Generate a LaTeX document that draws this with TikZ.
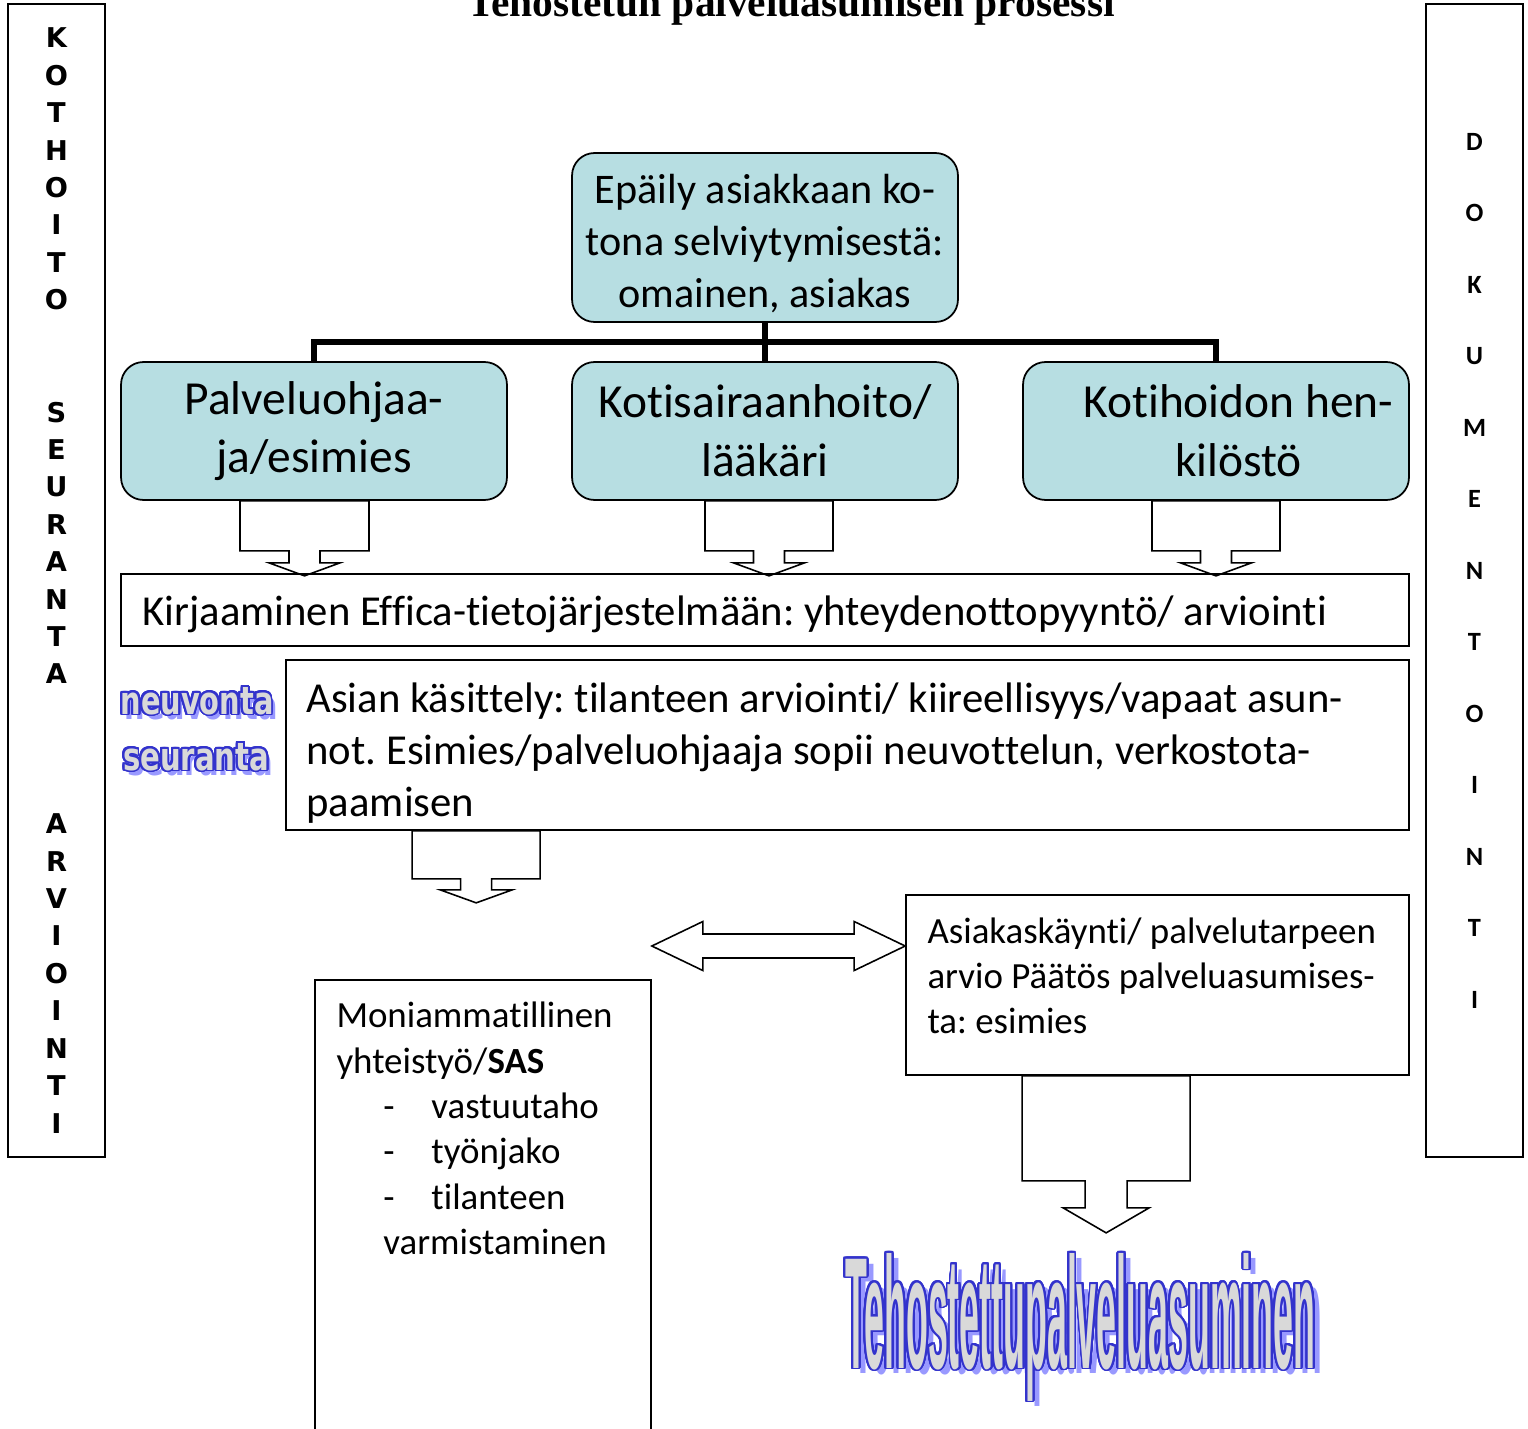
\documentclass[tikz,border=0pt]{standalone}
\usepackage{fontspec}
\setmainfont{Carlito}[Ligatures=NoCommon]
\newfontfamily\titlefont{Liberation Serif}
\newfontfamily\heavyfont{DejaVu Sans}
\newfontfamily\wordartfont{Liberation Sans}
\usepackage{contour}
\usetikzlibrary{calc}
\contournumber{32}
\contourlength{1.1pt}
\frenchspacing
\definecolor{boxblue}{RGB}{183,222,226}
\definecolor{waline}{RGB}{51,51,204}
\definecolor{wafill}{RGB}{217,217,217}
\definecolor{washadow}{RGB}{153,153,255}
\tikzstyle{bluebox} = [rectangle, rounded corners=0.45cm, draw=black, line width=1pt, fill=boxblue, align=center]
\tikzstyle{roleboxes} = [bluebox, minimum width=7.72cm, minimum height=2.76cm, font=\fontsize{27}{33.4}\selectfont]
\tikzstyle{plainbox} = [rectangle, draw=black, line width=1pt]
\tikzstyle{boxtext} = [inner sep=0, align=left]
\tikzstyle{sidebar} = [rectangle, draw=black, line width=1pt, minimum width=1.94cm, minimum height=23.06cm, align=center]
\tikzstyle{tree} = [line width=3pt]
\tikzstyle{callout} = [line width=0.9pt, line join=miter]
% block arrow pointing down: top centre, box half width, box height, stem half width, stem length, head half width, head length
\newcommand{\calloutdown}[7]{%
  \draw [callout] (#1) -- ++(-#2,0) -- ++(0,#3) -- ++({#2-#4},0) -- ++(0,#5) -- ++({#4-#6},0) -- ++(#6,#7)
    -- ++(#6,-#7) -- ++({#4-#6},0) -- ++(0,-#5) -- ++({#2-#4},0) -- ++(0,-#3) -- cycle;
}
% block arrow with two heads, tip to tip
\newcommand{\doublecallout}[2]{%
  \draw [callout] let \p1=(#1), \p2=(#2) in (\p1) -- (\x1+1.02cm,\y1+0.49cm) -- (\x1+1.02cm,\y1+0.24cm)
    -- (\x2-1.02cm,\y1+0.24cm) -- (\x2-1.02cm,\y1+0.49cm) -- (\p2) -- (\x2-1.02cm,\y1-0.49cm)
    -- (\x2-1.02cm,\y1-0.24cm) -- (\x1+1.02cm,\y1-0.24cm) -- (\x1+1.02cm,\y1-0.49cm) -- cycle;
}
\newcommand{\wordart}[3]{{\color{wafill}\contour{waline}{\resizebox{#1}{#2}{#3}}}}
\newcommand{\wordshadow}[3]{{\color{washadow}\resizebox{#1}{#2}{#3}}}

\begin{document}
\begin{tikzpicture}[x=0.02cm, y=-0.02cm]
\useasboundingbox (0,0) rectangle (1528,1429);

% title, cut off by the page edge
\node (title) [anchor=base, inner sep=0, font=\titlefont\bfseries\fontsize{23.6}{27}\selectfont] at (791,17) {Tehostetun palveluasumisen prosessi};

% side bars
\node (kotihoito) [sidebar, font=\heavyfont\bfseries\fontsize{15.5}{21.3}\selectfont] at (56.5,580.5)
  {K\\O\\T\\H\\O\\I\\T\\O\\~\\~\\S\\E\\U\\R\\A\\N\\T\\A\\~\\~\\~\\A\\R\\V\\I\\O\\I\\N\\T\\I};
\node (dokumentointi) [sidebar] at (1474.5,580.5) {};
\node (dokuteksti) [align=center, inner sep=0, font=\bfseries\fontsize{15}{40.7}\selectfont] at ([yshift=0.2cm]dokumentointi.center)
  {D\\O\\K\\U\\M\\E\\N\\T\\O\\I\\N\\T\\I};

% who notices
\node (epaily) [bluebox, minimum width=7.72cm, minimum height=3.38cm] at (765,237.5) {};
\node (epailyteksti) [boxtext, align=center, font=\fontsize{24}{29.5}\selectfont] at ([yshift=-0.12cm]epaily.center)
  {Epäily asiakkaan ko-\\tona selviytymisestä:\\omainen, asiakas};
\node (palv) [roleboxes] at (314,431) {Palveluohjaa-\\ja/esimies};
\node (koti) [roleboxes] at (765,431) {Kotisairaanhoito/\\lääkäri};
\node (kotih) [roleboxes] at (1216,431) {\hspace*{0.9cm}Kotihoidon hen-\\\hspace*{0.9cm}kilöstö};

\coordinate (bar) at (765,342);
\draw [tree] (epaily.south) -- (koti.north);
\draw [tree] (palv.north) -- (palv.north |- bar) -- (kotih.north |- bar) -- (kotih.north);

% recording and handling
\node (kirjaus) [plainbox, minimum width=25.76cm, minimum height=1.44cm] at (765,610) {};
\node (kirjausteksti) [boxtext, anchor=west, font=\fontsize{24.3}{29.5}\selectfont] at ([xshift=0.44cm,yshift=-0.08cm]kirjaus.west)
  {Kirjaaminen Effica-tietojärjestelmään: yhteydenottopyyntö/ arviointi};
\node (kasittely) [plainbox, minimum width=22.46cm, minimum height=3.4cm] at (847.5,745) {};
\node (kasittelyteksti) [boxtext, anchor=west, font=\fontsize{24.3}{29.5}\selectfont] at ([xshift=0.42cm,yshift=-0.16cm]kasittely.west)
  {Asian käsittely: tilanteen arviointi/ kiireellisyys/vapaat asun-\\not. Esimies/palveluohjaaja sopii neuvottelun, verkostota-\\paamisen};

\node (asiakas) [plainbox, minimum width=10.06cm, minimum height=3.6cm] at (1157.5,985) {};
\node (asiakasteksti) [boxtext, anchor=north west, font=\fontsize{21}{25.8}\selectfont] at ([xshift=0.44cm,yshift=-0.46cm]asiakas.north west)
  {Asiakaskäynti/ palvelutarpeen\\arvio Päätös palveluasumises-\\ta: esimies};

\node (moni) [plainbox, anchor=north, minimum width=6.72cm, minimum height=9.6cm] at (483,979) {};
\node (moniteksti) [boxtext, anchor=north west, font=\fontsize{21}{25.8}\selectfont] at ([xshift=0.44cm,yshift=-0.46cm]moni.north west)
  {Moniammatillinen\\yhteistyö/\textbf{SAS}\\
   \hspace*{0.94cm}\makebox[0.96cm][l]{-}vastuutaho\\
   \hspace*{0.94cm}\makebox[0.96cm][l]{-}työnjako\\
   \hspace*{0.94cm}\makebox[0.96cm][l]{-}tilanteen\\
   \hspace*{0.94cm}varmistaminen};

% word art
\node (neuvontavarjo) [anchor=base, inner sep=0] at (201,719) {\wordshadow{3.06cm}{0.54cm}{\heavyfont\bfseries neuvonta}};
\node (neuvonta) [anchor=base, inner sep=0] at (197,714) {\wordart{3.06cm}{0.54cm}{\heavyfont\bfseries neuvonta}};
\node (seurantavarjo) [anchor=base, inner sep=0] at (200,775) {\wordshadow{2.92cm}{0.54cm}{\heavyfont\bfseries seuranta}};
\node (seuranta) [anchor=base, inner sep=0] at (196,770) {\wordart{2.92cm}{0.54cm}{\heavyfont\bfseries seuranta}};
\node (tehostettuvarjo) [anchor=base west, inner sep=0] at (852,1373) {\wordshadow{9.4cm}{2.3cm}{\wordartfont\bfseries Tehostettupalveluasuminen}};
\node (tehostettu) [anchor=base west, inner sep=0] at (845,1368) {\wordart{9.4cm}{2.3cm}{\wordartfont\bfseries Tehostettupalveluasuminen}};

% block arrows
\calloutdown{[xshift=-0.19cm]palv.south}{64.5}{50}{15.5}{12}{35.5}{13}
\calloutdown{[xshift=0.08cm]koti.south}{64}{50}{15.5}{12}{35.5}{13}
\calloutdown{kotih.south}{64}{50}{15.5}{12}{35.5}{13}
\calloutdown{[xshift=3.82cm]kasittely.south west}{64}{48}{15.5}{11}{36}{13}
\calloutdown{[xshift=4.02cm]asiakas.south west}{84}{105}{21}{27}{43}{25}

\coordinate (oikea) at ([yshift=0.78cm]asiakas.west);
\coordinate (vasen) at (oikea -| moni.east);
\doublecallout{vasen}{oikea}
\end{tikzpicture}
\end{document}
